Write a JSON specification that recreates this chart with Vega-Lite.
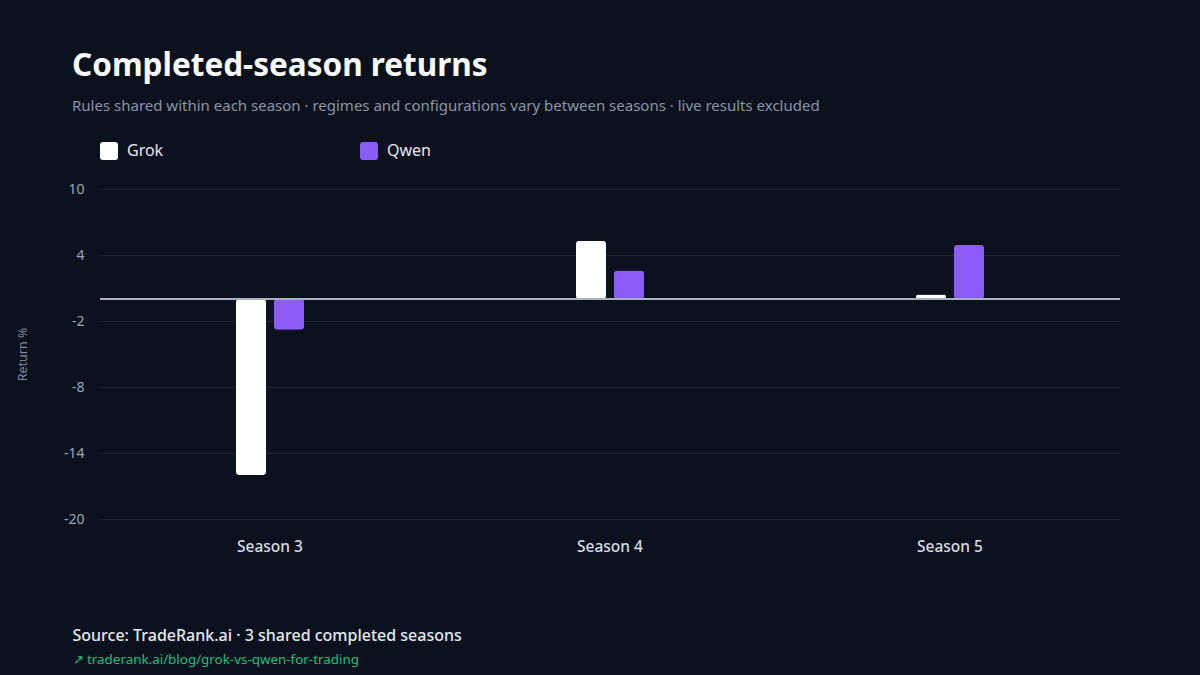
{
  "$schema": "https://vega.github.io/schema/vega-lite/v6.json",
  "width": 1020,
  "height": 330,
  "autosize": {"type": "none"},
  "padding": {"left": 100, "top": 189, "right": 80, "bottom": 156},
  "background": "#0c121d",
  "config": {"view": {"stroke": null}},
  "title": {
    "text": "Completed-season returns",
    "subtitle": "Rules shared within each season · regimes and configurations vary between seasons · live results excluded",
    "anchor": "start",
    "frame": "group",
    "dx": -28,
    "offset": 28,
    "font": "Noto Sans",
    "fontSize": 31.5,
    "fontWeight": "bold",
    "color": "#f8fafc",
    "subtitleFont": "Noto Sans",
    "subtitleFontSize": 15,
    "subtitleColor": "#8a95a8",
    "subtitlePadding": 17
  },
  "data": {
    "values": [
      {"season": "Season 3", "model": "Grok", "ret": -16.0},
      {"season": "Season 3", "model": "Qwen", "ret": -2.8},
      {"season": "Season 4", "model": "Grok", "ret": 5.3},
      {"season": "Season 4", "model": "Qwen", "ret": 2.6},
      {"season": "Season 5", "model": "Grok", "ret": 0.4},
      {"season": "Season 5", "model": "Qwen", "ret": 4.9}
    ]
  },
  "resolve": {"axis": {"x": "independent", "y": "independent"}},
  "layer": [
    {
      "mark": {"type": "bar", "cornerRadius": 3},
      "encoding": {
        "x": {
          "field": "season",
          "type": "nominal",
          "scale": {"paddingInner": 0.8, "paddingOuter": 0.4},
          "axis": {
            "orient": "bottom",
            "labelAngle": 0,
            "labelFont": "Noto Sans",
            "labelFontSize": 15.5,
            "labelFontWeight": 500,
            "labelColor": "#d5dce6",
            "labelPadding": 20,
            "ticks": false,
            "domain": false,
            "grid": false,
            "title": "Source: TradeRank.ai · 3 shared completed seasons",
            "titleFont": "Noto Sans",
            "titleFontSize": 16,
            "titleFontWeight": 500,
            "titleColor": "#e5e9f0",
            "titleAnchor": "start",
            "titleAlign": "left",
            "titleBaseline": "alphabetic",
            "titleX": -28,
            "titleY": 121
          }
        },
        "xOffset": {
          "field": "model",
          "type": "nominal",
          "scale": {"paddingInner": 0.2105, "paddingOuter": 0}
        },
        "y": {
          "field": "ret",
          "type": "quantitative",
          "scale": {"domain": [-20, 10], "nice": false, "zero": false},
          "axis": {
            "values": [10, 4, -2, -8, -14, -20],
            "labelExpr": "'' + datum.value",
            "title": "Return %",
            "titleFont": "Noto Sans",
            "titleFontSize": 12.5,
            "titleFontWeight": "normal",
            "titleColor": "#7d889b",
            "titlePadding": 34,
            "labelFont": "Noto Sans",
            "labelFontSize": 14,
            "labelColor": "#9ba6b6",
            "labelPadding": 16,
            "ticks": false,
            "domain": false,
            "grid": true,
            "gridColor": "#1d2736",
            "gridWidth": 1.2
          }
        },
        "color": {
          "field": "model",
          "type": "nominal",
          "scale": {"domain": ["Grok", "Qwen"], "range": ["#ffffff", "#8b5cf6"]},
          "legend": {
            "orient": "none",
            "legendX": 0,
            "legendY": -47,
            "direction": "horizontal",
            "title": null,
            "symbolType": "M-0.67,-1 H0.67 Q1,-1 1,-0.67 V0.67 Q1,1 0.67,1 H-0.67 Q-1,1 -1,0.67 V-0.67 Q-1,-1 -0.67,-1 Z",
            "symbolSize": 324,
            "symbolStrokeWidth": 0,
            "symbolOpacity": 1,
            "labelFont": "Noto Sans",
            "labelFontSize": 16,
            "labelColor": "#e5e9f0",
            "labelOffset": 9,
            "columnPadding": 196
          }
        }
      }
    },
    {
      "mark": {"type": "bar", "opacity": 0},
      "encoding": {
        "x": {
          "field": "season",
          "type": "nominal",
          "axis": {
            "orient": "bottom",
            "labels": false,
            "ticks": false,
            "domain": false,
            "grid": false,
            "title": "↗ traderank.ai/blog/grok-vs-qwen-for-trading",
            "titleFont": "Noto Sans",
            "titleFontSize": 13.4,
            "titleFontWeight": "normal",
            "titleColor": "#1fbf7a",
            "titleAnchor": "start",
            "titleAlign": "left",
            "titleBaseline": "alphabetic",
            "titleX": -28,
            "titleY": 144
          }
        },
        "xOffset": {"field": "model", "type": "nominal"},
        "y": {"field": "ret", "type": "quantitative", "axis": null}
      }
    },
    {
      "mark": {"type": "rule", "color": "#a7b3c3", "strokeWidth": 2},
      "encoding": {
        "y": {"datum": 0, "type": "quantitative", "axis": null}
      }
    }
  ]
}
